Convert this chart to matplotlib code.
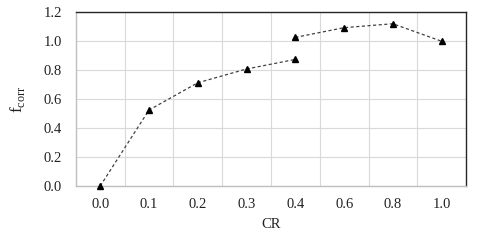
import numpy as np
import matplotlib
matplotlib.use('Agg')
import matplotlib.pyplot as plt

plt.rcParams['font.family'] = ['Liberation Serif', 'DejaVu Serif']

categories = ['0.0', '0.1', '0.2', '0.3', '0.4', '0.6', '0.8', '1.0']
# first segment: CR 0.0 .. 0.4
seg1_idx = [0, 1, 2, 3, 4]
seg1_vals = [0.0, 0.524, 0.712, 0.807, 0.873]
# second segment: CR 0.4 .. 1.0
seg2_idx = [4, 5, 6, 7]
seg2_vals = [1.025, 1.092, 1.119, 0.998]
yticks = [0.0, 0.2, 0.4, 0.6, 0.8, 1.0, 1.2]

fig = plt.figure(figsize=(4.8, 2.4), dpi=100)
ax = fig.add_axes([0.158, 0.225, 0.813, 0.725])

for idx, vals in [(seg1_idx, seg1_vals), (seg2_idx, seg2_vals)]:
    ax.plot(idx, vals, linestyle=(0, (2.5, 2)), color='#404040', linewidth=0.9,
            marker='^', markersize=5, markerfacecolor='black', markeredgecolor='black',
            clip_on=False, zorder=3)

ax.set_xlim(-0.5, len(categories) - 0.5)
ax.set_ylim(0, 1.2)
ax.set_xticks(range(len(categories)))
ax.set_xticklabels(categories)
ax.set_yticks(yticks)
ax.set_yticklabels([f'{v:.1f}' for v in yticks])

# gridlines between categories, Excel style
ax.set_xticks(np.arange(0.5, len(categories) - 0.5), minor=True)
ax.grid(True, which='minor', axis='x', color='#d9d9d9', linewidth=0.8)
ax.grid(True, which='major', axis='y', color='#d9d9d9', linewidth=0.8)
ax.set_axisbelow(True)

ax.tick_params(axis='both', which='both', length=0, labelsize=10.5, colors='#222222')
ax.tick_params(axis='x', pad=9)
ax.tick_params(axis='y', pad=10)

for s in ['top', 'right']:
    ax.spines[s].set_color('#262626')
    ax.spines[s].set_linewidth(1.0)
for s in ['left', 'bottom']:
    ax.spines[s].set_color('#bfbfbf')
    ax.spines[s].set_linewidth(1.0)

ax.set_xlabel('CR', fontsize=10.5, color='#222222', labelpad=5)
ax.set_ylabel(r'f$_{\mathregular{corr}}$', fontsize=12.5, color='#222222', labelpad=12)

fig.savefig('out.png', dpi=100)
